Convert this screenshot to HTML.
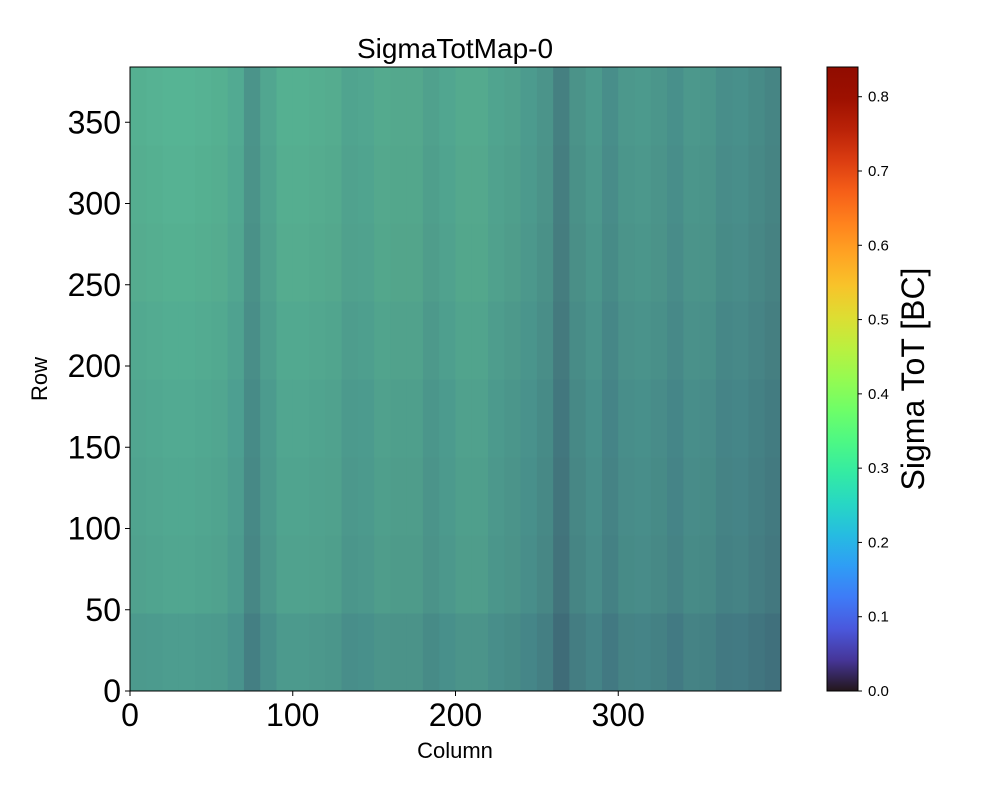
<!DOCTYPE html>
<html><head><meta charset="utf-8">
<style>
body{margin:0;background:#fff;font-family:"Liberation Sans","DejaVu Sans",sans-serif;}
#wrap{position:relative;width:1000px;height:800px;}
</style></head>
<body>
<div id="wrap">
<svg id="svg" width="1000" height="800" xmlns="http://www.w3.org/2000/svg">
  <defs>
    <linearGradient id="cbgrad" x1="0" y1="1" x2="0" y2="0"></linearGradient>
  </defs>
  <text x="455" y="58" font-size="28" text-anchor="middle" fill="#000">SigmaTotMap-0</text>
  <g id="heat"></g>
  <rect x="130" y="67" width="651" height="624" fill="none" stroke="#000" stroke-width="1"/>
  <g id="xt"></g>
  <g id="yt"></g>
  <text x="455" y="758" font-size="22" text-anchor="middle">Column</text>
  <text transform="translate(47,379) rotate(-90)" font-size="22" text-anchor="middle">Row</text>
  <rect x="827" y="67" width="31" height="624" fill="url(#cbgrad)"/>
  <rect x="827" y="67" width="31" height="624" fill="none" stroke="#000" stroke-width="1"/>
  <g id="ct"></g>
  <text transform="translate(924,379) rotate(-90)" font-size="32" text-anchor="middle">Sigma ToT [BC]</text>
</svg>
</div>
<script>
// data
const xTicks = [0, 100, 200, 300];
const yTicks = [0, 50, 100, 150, 200, 250, 300, 350];
const cTicks = [0.0, 0.1, 0.2, 0.3, 0.4, 0.5, 0.6, 0.7, 0.8];
const nCols = 400, nRows = 384, vMax = 0.84;
// dark-pixel fraction per 10-column band (40 bands)
const colDark = [0.18,0.17,0.16,0.16,0.17,0.18,0.20,0.30,0.22,0.18,
                 0.18,0.19,0.20,0.23,0.22,0.21,0.22,0.22,0.25,0.22,
                 0.21,0.21,0.23,0.25,0.26,0.30,0.40,0.31,0.27,0.32,
                 0.28,0.27,0.29,0.31,0.28,0.29,0.32,0.31,0.34,0.37];
// additional dark fraction per 48-row band, bottom to top (8 bands)
const rowDark = [0.06,0.03,0.02,0.01,0.00,-0.01,-0.02,-0.03];
// mean value of non-dark pixels per column band and per row band
const colMean = [0.33,0.33,0.33,0.33,0.33,0.33,0.32,0.31,0.32,0.33,
                 0.33,0.33,0.33,0.32,0.32,0.33,0.33,0.33,0.32,0.32,
                 0.33,0.33,0.32,0.32,0.31,0.31,0.30,0.31,0.31,0.30,
                 0.31,0.31,0.31,0.30,0.31,0.31,0.30,0.30,0.30,0.30];
const rowMean = [-0.01,0.0,0.0,0.0,0.005,0.01,0.01,0.01];

const X0=130,X1=781,Y0=691,Y1=67,CB=67,CB0=691;
const xs = c => X0 + c/nCols*(X1-X0);
const ys = r => Y0 - r/nRows*(Y0-Y1);
const cs = v => CB0 - v/vMax*(CB0-CB);
const NS="http://www.w3.org/2000/svg";
function turbo(t){t=Math.max(0,Math.min(1,t));
 const r=34.61+t*(1172.33-t*(10793.56-t*(33300.12-t*(38394.49-t*14825.05))));
 const g=23.31+t*(557.33+t*(1225.33-t*(3574.96-t*(1073.77+t*707.56))));
 const b=27.2+t*(3211.1-t*(15327.97-t*(27814-t*(22569.18-t*6838.66))));
 return [r,g,b].map(x=>Math.max(0,Math.min(255,Math.round(x))));}
const dark=[48,18,59];
const spread=[-0.22,-0.1,0,0.12];
const heat=document.getElementById('heat');
const bw=nCols/colDark.length, bh=nRows/rowDark.length;
for(let i=0;i<colDark.length;i++){for(let j=0;j<rowDark.length;j++){
  const d=Math.max(0,Math.min(1,colDark[i]+rowDark[j]));
  const m=colMean[i]+rowMean[j];
  const base=[0,0,0];
  spread.forEach(s=>{const c=turbo((m+s)/vMax);for(let k=0;k<3;k++)base[k]+=c[k]/spread.length;});
  const col=base.map((v,k)=>Math.round(v*(1-d)+dark[k]*d));
  const r=document.createElementNS(NS,'rect');
  
  
  const x=xs(i*bw), y=ys((j+1)*bh);
  r.setAttribute('x',x);r.setAttribute('y',y);
  r.setAttribute('width',xs((i+1)*bw)-x+0.5);r.setAttribute('height',ys(j*bh)-y+0.5);
  r.setAttribute('fill','rgb('+col.join(',')+')');
  heat.appendChild(r);}}
const grad=document.getElementById('cbgrad');
for(let k=0;k<=20;k++){const s=document.createElementNS(NS,'stop');
  s.setAttribute('offset',k/20);s.setAttribute('stop-color','rgb('+turbo(k/20).join(',')+')');grad.appendChild(s);}
const xt=document.getElementById('xt');
xTicks.forEach(v=>{const x=xs(v);
  const l=document.createElementNS(NS,'line');
  
  
  l.setAttribute('x1',x);l.setAttribute('x2',x);l.setAttribute('y1',Y0);l.setAttribute('y2',Y0+5);l.setAttribute('stroke','#000');xt.appendChild(l);
  const t=document.createElementNS(NS,'text');
  
  
  t.setAttribute('x',x);t.setAttribute('y',Y0+35);t.setAttribute('font-size','32');t.setAttribute('text-anchor','middle');t.textContent=v;xt.appendChild(t);});
const yt=document.getElementById('yt');
yTicks.forEach(v=>{const y=ys(v);
  const l=document.createElementNS(NS,'line');
  
  
  l.setAttribute('x1',X0-5);l.setAttribute('x2',X0);l.setAttribute('y1',y);l.setAttribute('y2',y);l.setAttribute('stroke','#000');yt.appendChild(l);
  const t=document.createElementNS(NS,'text');
  
  
  t.setAttribute('x',X0-9);t.setAttribute('y',y+11);t.setAttribute('font-size','32');t.setAttribute('text-anchor','end');t.textContent=v;yt.appendChild(t);});
const ct=document.getElementById('ct');
cTicks.forEach(v=>{const y=cs(v);
  const l=document.createElementNS(NS,'line');
  
  
  l.setAttribute('x1',858);l.setAttribute('x2',862);l.setAttribute('y1',y);l.setAttribute('y2',y);l.setAttribute('stroke','#000');ct.appendChild(l);
  const t=document.createElementNS(NS,'text');
  
  
  t.setAttribute('x',868);t.setAttribute('y',y+5);t.setAttribute('font-size','15');t.textContent=v.toFixed(1);ct.appendChild(t);});
</script>
</body></html>
